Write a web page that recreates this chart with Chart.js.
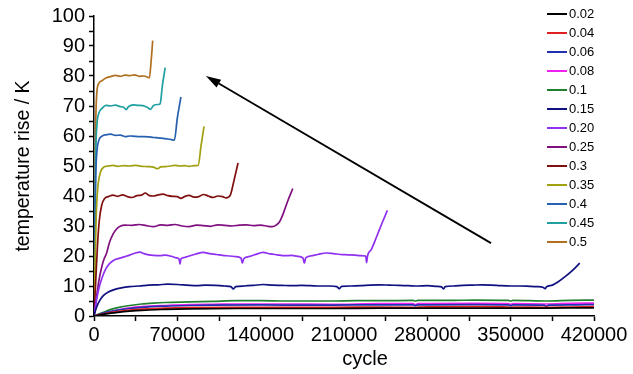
<!DOCTYPE html>
<html>
<head>
<meta charset="utf-8">
<script src="https://cdn.jsdelivr.net/npm/chart.js@4/dist/chart.umd.min.js"></script>
<style>
  html, body { margin: 0; padding: 0; background: #fff; }
  #wrap { width: 633px; height: 374px; position: relative; }
</style>
</head>
<body>
<div id="wrap"><canvas id="tempChart"></canvas></div>
<script>
// legend labels (load ratio) and line colours
const seriesLabels = ['0.02', '0.04', '0.06', '0.08', '0.1', '0.15', '0.20', '0.25', '0.3', '0.35', '0.4', '0.45', '0.5'];
const seriesColors = ['#000000', '#e02020', '#2030b0', '#f020f0', '#208030', '#101080', '#9030f0', '#801080', '#801010', '#a0a010', '#2860b0', '#20a0a0', '#b07020'];

const xTicks = [0, 70000, 140000, 210000, 280000, 350000, 420000];
const yTicks = [0, 10, 20, 30, 40, 50, 60, 70, 80, 90, 100];

// [cycle, temperature rise]
const s002 = [[0,0],[10000,0.7],[20000,1.2],[30000,1.6],[40000,1.9],[60000,2.2],[80000,2.4],[120000,2.5],[160000,2.5],[200000,2.5],[240000,2.6],[280000,2.6],[320000,2.6],[360000,2.6],[400000,2.7],[420000,2.7]];
const s004 = [[0,0],[10000,0.9],[20000,1.5],[30000,2],[40000,2.3],[60000,2.6],[80000,2.8],[120000,2.9],[160000,2.9],[200000,2.9],[240000,3],[268000,2.9],[270000,2.7],[272000,3],[320000,3.1],[348000,3],[350000,2.8],[352000,3],[380000,2.9],[400000,3],[420000,3.1]];
const s006 = [[0,0],[5000,0.6],[10000,1.2],[20000,2],[30000,2.5],[40000,2.9],[60000,3.3],[80000,3.5],[100000,3.6],[140000,3.7],[180000,3.6],[220000,3.7],[268000,3.7],[270000,3.4],[272000,3.7],[320000,3.8],[348000,3.7],[350000,3.4],[352000,3.7],[378000,3.6],[380000,3.3],[382000,3.6],[400000,3.7],[420000,3.8]];
const s008 = [[0,0],[5000,0.5],[10000,1.1],[20000,2],[30000,2.7],[40000,3.1],[60000,3.5],[80000,3.8],[100000,3.9],[120000,4],[160000,4],[200000,3.9],[240000,4.1],[268000,4.1],[270000,3.8],[272000,4.1],[320000,4.2],[348000,4.1],[350000,3.9],[352000,4.1],[380000,4],[400000,4.2],[420000,4.3]];
const s010 = [[0,0],[5000,0.8],[10000,1.6],[15000,2.3],[20000,2.8],[30000,3.5],[40000,4],[50000,4.3],[60000,4.5],[80000,4.7],[100000,4.9],[120000,5.1],[140000,5.1],[160000,5],[180000,5],[200000,5],[220000,5.1],[240000,5.1],[268000,5.2],[270000,5],[272000,5.2],[300000,5.2],[320000,5.3],[348000,5.2],[350000,5],[352000,5.2],[380000,5],[400000,5.2],[420000,5.3]];
const s015 = [[0,0],[1000,1.5],[2500,3.3],[5000,5.3],[8000,6.9],[12000,8],[17000,8.8],[23000,9.4],[30000,9.8],[38000,10],[46000,10.3],[54000,10.4],[62000,10.6],[70000,10.5],[78000,10.3],[86000,10.1],[94000,10.3],[102000,10.2],[110000,10],[115000,9.8],[117000,9],[119000,9.8],[126000,10],[134000,10.2],[142000,10.5],[150000,10.3],[158000,10.2],[166000,10.1],[174000,10.2],[182000,10.1],[190000,10],[198000,10],[204000,9.8],[206000,9.1],[208000,9.9],[216000,10],[224000,10.1],[232000,10.3],[240000,10.4],[248000,10.3],[256000,10.2],[264000,10.1],[272000,10],[280000,10.1],[288000,9.9],[292000,9.7],[293500,9],[295000,9.8],[302000,10],[310000,10.2],[318000,10.3],[326000,10.4],[334000,10.3],[342000,10.1],[350000,10],[358000,10],[366000,9.9],[372000,9.8],[377000,9.6],[379000,9.1],[380000,9.7],[385000,10.3],[390000,11.4],[396000,13.2],[402000,15.2],[408000,17.6]];
const s020 = [[0,0],[2000,5],[4000,9],[7000,13],[10000,15.8],[13400,17.6],[17000,18.7],[21800,19.3],[26000,19.8],[30000,20.3],[34000,20.9],[38600,21.3],[42000,20.8],[46000,20.4],[50000,20.2],[55000,20.1],[60000,20.3],[65000,19.9],[69000,19.4],[71500,18.9],[72200,17.3],[73000,19],[76000,19.5],[80000,20],[85000,20.6],[91800,21.2],[97000,20.8],[103000,20.5],[108000,20.2],[114000,20],[119000,19.8],[123500,19.3],[124600,17.6],[125800,19.1],[130000,19.8],[135000,20.4],[142000,21.2],[148000,20.7],[154000,20.4],[160000,20.1],[166000,20.2],[171000,19.9],[175500,19.4],[176700,17.6],[177900,19.4],[182000,20],[188000,20.5],[195000,21],[201000,20.8],[207000,20.5],[213000,20.4],[219000,20.3],[224000,20.1],[228200,20],[229000,17.8],[229800,20.1],[233000,22.2],[237400,26.4],[242000,31],[246400,35.2]];
const s025 = [[0,0],[2000,6],[4000,11.5],[6000,15.5],[8000,18.5],[10600,21],[13000,24.5],[16000,27.3],[19000,29],[22000,29.9],[26000,30.3],[32000,30.2],[38000,30.5],[44000,30.1],[50000,29.8],[56000,30.4],[62000,30.2],[68000,30.5],[74000,30],[80000,29.8],[86000,30.3],[92000,30.1],[98000,29.9],[104000,30.4],[110000,30.2],[116000,30],[122000,30.3],[128000,30.4],[134000,30.1],[140000,30.3],[146000,29.9],[150000,29.8],[153000,30.3],[156000,31.5],[159000,34.2],[163000,38.6],[167000,42.5]];
const s030 = [[0,0],[1500,12],[3000,24],[4500,32],[6500,37],[9000,39.2],[12000,39.8],[16000,40.3],[20000,39.9],[24000,40.4],[28000,39.8],[32000,39.5],[36000,40.1],[40000,40.3],[43000,41],[46000,40.2],[50000,40],[54000,40.4],[58000,40.6],[62000,40.1],[66000,39.9],[70000,39.8],[73000,39.2],[76000,39.8],[80000,40.2],[84000,39.6],[88000,39.8],[92000,40.5],[96000,40],[100000,39.5],[104000,40],[108000,39.8],[111000,39.4],[114500,40.3],[117500,45],[121000,51]];
const s035 = [[0,0],[1000,20],[2000,35],[3500,44],[5500,48],[8000,49.6],[12000,50],[16000,50.2],[20000,49.9],[25000,50.1],[30000,50],[35000,50.2],[40000,49.9],[45000,49.8],[50000,49.6],[53500,49.1],[56000,49.7],[60000,49.8],[64000,50],[68000,50.2],[72000,50],[76000,50.1],[80000,49.9],[84000,50.1],[87500,50.2],[90000,57],[92400,63.2]];
const s040 = [[0,0],[800,30],[1500,47],[2500,55],[4000,58.5],[7000,60],[10000,60.4],[14000,60.6],[18000,60.2],[22000,60.3],[26000,59.8],[30000,60],[34000,59.9],[38000,59.8],[42000,59.8],[46000,59.7],[50000,59.5],[54000,59.4],[58000,59.2],[62000,59],[65000,58.8],[67500,58.6],[70000,66],[73000,73]];
const s045 = [[0,0],[800,35],[1500,55],[2500,64],[4000,67.5],[7000,69.3],[10000,70.2],[14000,70],[18000,70.3],[22000,69.8],[25000,69.6],[27000,68.8],[29000,69.8],[33000,70.4],[37000,70.2],[41000,70.1],[45000,69.5],[47500,68.9],[50000,70.2],[54000,70.5],[55500,70.7],[57500,77],[59800,82.8]];
const s050 = [[0,0],[800,40],[1500,65],[2500,75],[4000,77.5],[7000,78.5],[10000,79.3],[14000,79.8],[18000,80.2],[22000,79.9],[26000,80.3],[30000,80.1],[34000,80.4],[38000,79.9],[42000,80],[45000,79.6],[46500,79.4],[48000,85],[49300,91.8]];

const seriesData = [s002, s004, s006, s008, s010, s015, s020, s025, s030, s035, s040, s045, s050];

// arrow annotation, data coordinates: tail -> tip
const arrowTail = [333500, 24.3];
const arrowTip = [94000, 80];

const fontFamily = "'Liberation Sans', Arial, sans-serif";

const extrasPlugin = {
  id: 'extras',
  afterDraw(chart) {
    const { ctx, chartArea, scales } = chart;
    const xs = scales.x, ys = scales.y;
    ctx.save();

    // arrow
    const x1 = xs.getPixelForValue(arrowTail[0]), y1 = ys.getPixelForValue(arrowTail[1]);
    const x2 = xs.getPixelForValue(arrowTip[0]), y2 = ys.getPixelForValue(arrowTip[1]);
    const ang = Math.atan2(y2 - y1, x2 - x1);
    const headLen = 15, headW = 4.5;
    const bx = x2 - headLen * Math.cos(ang), by = y2 - headLen * Math.sin(ang);
    ctx.strokeStyle = '#000';
    ctx.fillStyle = '#000';
    ctx.lineWidth = 1.8;
    ctx.beginPath();
    ctx.moveTo(x1, y1);
    ctx.lineTo(bx, by);
    ctx.stroke();
    ctx.beginPath();
    ctx.moveTo(x2, y2);
    ctx.lineTo(bx + headW * Math.sin(ang), by - headW * Math.cos(ang));
    ctx.lineTo(bx - headW * Math.sin(ang), by + headW * Math.cos(ang));
    ctx.closePath();
    ctx.fill();

    // legend inside the plot, top right
    const lx = chartArea.right - 47;
    let ly = 14;
    ctx.font = '13px ' + fontFamily;
    ctx.textBaseline = 'middle';
    ctx.textAlign = 'left';
    chart.data.datasets.forEach(ds => {
      ctx.strokeStyle = ds.borderColor;
      ctx.lineWidth = 2;
      ctx.beginPath();
      ctx.moveTo(lx, ly);
      ctx.lineTo(lx + 20, ly);
      ctx.stroke();
      ctx.fillStyle = '#000';
      ctx.fillText(ds.label, lx + 22, ly + 0.5);
      ly += 19;
    });

    // x axis title
    ctx.font = '20px ' + fontFamily;
    ctx.textAlign = 'center';
    ctx.fillStyle = '#000';
    ctx.fillText('cycle', (chartArea.left + chartArea.right) / 2 + 21, 359);
    ctx.restore();
  }
};

function initChart() {
  const ctx = document.getElementById('tempChart').getContext('2d');
  new Chart(ctx, {
    type: 'line',
    data: {
      datasets: seriesData.map((pts, i) => ({
        label: seriesLabels[i],
        data: pts.map(p => ({ x: p[0], y: p[1] })),
        borderColor: seriesColors[i],
        backgroundColor: seriesColors[i],
        borderWidth: 1.7,
        pointRadius: 0,
        fill: false,
        cubicInterpolationMode: 'monotone'
      }))
    },
    options: {
      responsive: true,
      maintainAspectRatio: false,
      animation: false,
      layout: { padding: { top: 16, right: 39, left: 0, bottom: 0 } },
      plugins: {
        legend: { display: false },
        tooltip: { enabled: false }
      },
      scales: {
        x: {
          type: 'linear',
          min: 0,
          max: 420000,
          afterFit: s => { s.height = 58; },
          afterBuildTicks: s => {
            const t = [];
            for (let v = 0; v <= 420000; v += 35000) t.push({ value: v });
            s.ticks = t;
          },
          ticks: {
            color: '#000',
            padding: 2,
            maxRotation: 0,
            autoSkip: false,
            font: { size: 20, family: fontFamily },
            callback: v => xTicks.includes(v) ? String(v) : ''
          },
          grid: { drawOnChartArea: false, drawTicks: true, tickLength: 5, tickColor: '#000', tickWidth: 1.5 },
          border: { display: true, color: '#000', width: 1.5 }
        },
        y: {
          min: 0,
          max: 100,
          afterFit: s => { s.width = 94; },
          ticks: {
            stepSize: 5,
            color: '#000',
            padding: 4,
            autoSkip: false,
            font: { size: 20, family: fontFamily },
            callback: v => yTicks.includes(v) ? String(v) : ''
          },
          title: {
            display: true,
            text: 'temperature rise / K',
            color: '#000',
            font: { size: 19.5, family: fontFamily },
            padding: { top: 12, bottom: 0 }
          },
          grid: { drawOnChartArea: false, drawTicks: true, tickLength: 5, tickColor: '#000', tickWidth: 1.5 },
          border: { display: true, color: '#000', width: 1.5 }
        }
      }
    },
    plugins: [extrasPlugin]
  });
}

document.addEventListener('DOMContentLoaded', initChart);
</script>
</body>
</html>
